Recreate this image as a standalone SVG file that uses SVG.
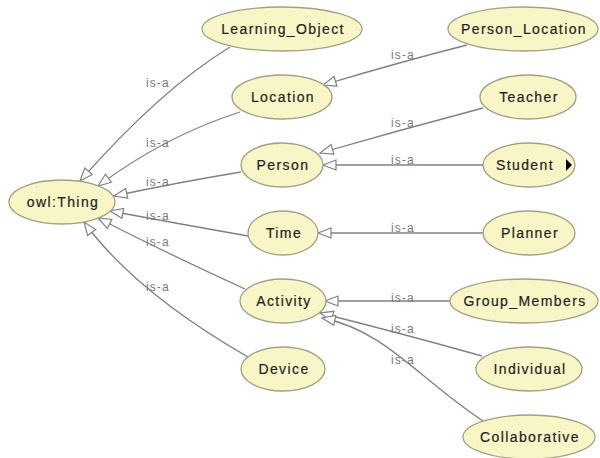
<svg xmlns="http://www.w3.org/2000/svg" width="600" height="458" viewBox="0 0 600 458">
<defs>
<marker id="isa" markerWidth="16" markerHeight="14" refX="14" refY="6" orient="auto" markerUnits="userSpaceOnUse" viewBox="0 0 16 12" overflow="visible">
<path d="M1,1 L14,6 L1,11 Z" fill="#ffffff" stroke="#808080" stroke-width="1.2" stroke-linejoin="miter"/>
</marker>
<style>
.node ellipse{fill:#f8f6c6;stroke:#a0a084;stroke-width:1.3}
.node text{font-family:"Liberation Sans",Arial,sans-serif;font-size:14px;fill:#1e1e1e;text-anchor:middle;letter-spacing:1.4px;stroke:#1e1e1e;stroke-width:0.2}
.edges path{fill:none;stroke:#808080;stroke-width:1.3;marker-end:url(#isa)}
.edges text{font-family:"Liberation Sans",Arial,sans-serif;font-size:12px;fill:#7a7a7a;letter-spacing:1.1px}
</style>
</defs>
<rect width="600" height="458" fill="#ffffff"/>
<g id="connectors" class="edges">
<path d="M230,47 Q160,90 80,181"/>
<path d="M240,112 Q165,136 98,186"/>
<path d="M241,172 Q180,182 114,196"/>
<path d="M248,236 Q180,224 110,211"/>
<path d="M245,289 Q160,250 98,218"/>
<path d="M248,357 Q135,292 84,222"/>
<path d="M467,45 Q400,62 323,85"/>
<path d="M483,108 Q400,130 320,153"/>
<path d="M483,165 L323,165"/>
<path d="M483,233 L318,233"/>
<path d="M450,301 L325,301"/>
<path d="M482,356 Q400,333 320,313"/>
<path d="M483,421 C420,380 385,330 322,318"/>
<text x="146" y="87">is-a</text>
<text x="146" y="147">is-a</text>
<text x="146" y="186">is-a</text>
<text x="146" y="220">is-a</text>
<text x="146" y="246">is-a</text>
<text x="146" y="291">is-a</text>
<text x="391" y="59">is-a</text>
<text x="391" y="127">is-a</text>
<text x="391" y="164">is-a</text>
<text x="391" y="232">is-a</text>
<text x="391" y="302">is-a</text>
<text x="391" y="333">is-a</text>
<text x="391" y="364">is-a</text>
</g>
<g id="owl_Thing" class="node"><ellipse cx="62" cy="202" rx="53" ry="22"/><text x="63" y="207">owl:Thing</text></g>
<g id="Learning_Object" class="node"><ellipse cx="282" cy="29" rx="80" ry="22"/><text x="283" y="34">Learning_Object</text></g>
<g id="Location" class="node"><ellipse cx="282" cy="97" rx="50" ry="22"/><text x="283" y="102">Location</text></g>
<g id="Person" class="node"><ellipse cx="282" cy="165" rx="41" ry="22"/><text x="283" y="170">Person</text></g>
<g id="Time" class="node"><ellipse cx="283" cy="233" rx="35" ry="22"/><text x="284" y="238">Time</text></g>
<g id="Activity" class="node"><ellipse cx="283" cy="301" rx="43" ry="22"/><text x="284" y="306">Activity</text></g>
<g id="Device" class="node"><ellipse cx="283" cy="369" rx="42" ry="22"/><text x="284" y="374">Device</text></g>
<g id="Person_Location" class="node"><ellipse cx="523" cy="29" rx="75" ry="22"/><text x="524" y="34">Person_Location</text></g>
<g id="Teacher" class="node"><ellipse cx="528" cy="97" rx="48" ry="22"/><text x="529" y="102">Teacher</text></g>
<g id="Student" class="node"><ellipse cx="529" cy="165" rx="46" ry="22"/><text x="525" y="170">Student</text><path d="M566,159 L572,165 L566,171 Z" fill="#000000"/></g>
<g id="Planner" class="node"><ellipse cx="529" cy="233" rx="46" ry="22"/><text x="530" y="238">Planner</text></g>
<g id="Group_Members" class="node"><ellipse cx="524" cy="301" rx="74" ry="22"/><text x="525" y="306">Group_Members</text></g>
<g id="Individual" class="node"><ellipse cx="529" cy="369" rx="53" ry="22"/><text x="530" y="374">Individual</text></g>
<g id="Collaborative" class="node"><ellipse cx="529" cy="437" rx="66" ry="22"/><text x="530" y="442">Collaborative</text></g>
</svg>
